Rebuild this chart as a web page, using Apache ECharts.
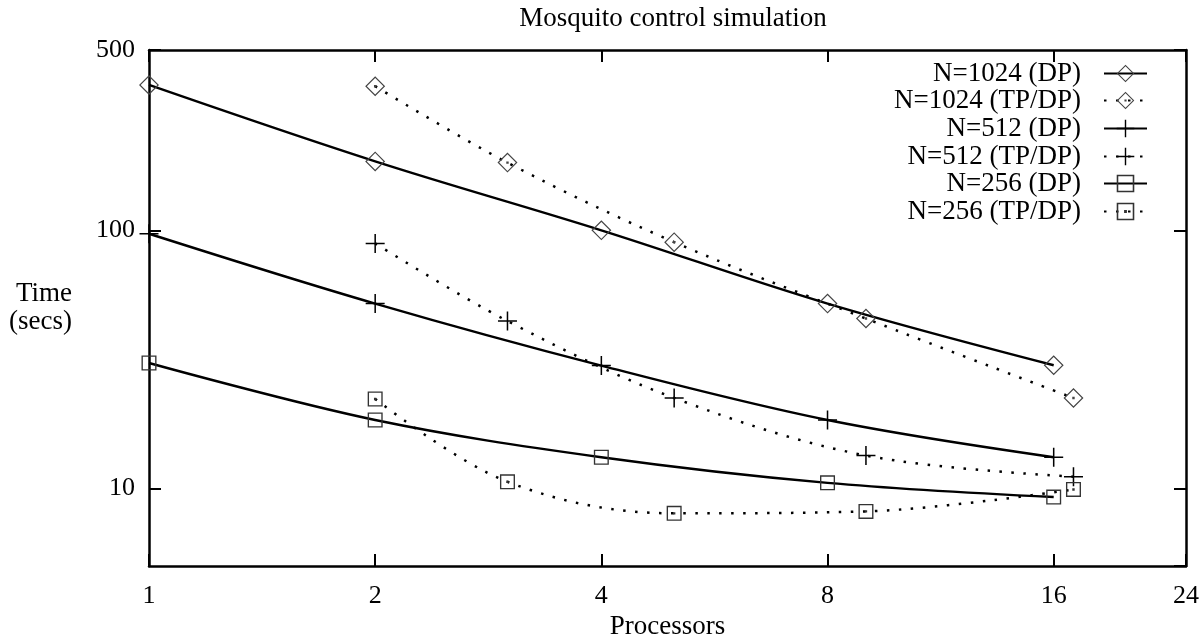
<!DOCTYPE html>
<html>
<head>
<meta charset="utf-8">
<script src="https://cdn.jsdelivr.net/npm/echarts@6/dist/echarts.min.js"></script>
<style>
    html, body {margin: 0; padding: 0; background: #fff;}
    #chart {width: 1203px; height: 637px;}
</style>
</head>
<body>
<div id="chart"></div>
<script>
    // processors used in each run
    const procDP = [1, 2, 4, 8, 16]
    const procTP = [2, 3, 5, 9, 17]

    // time in seconds
    const dp1024 = [366, 185, 100, 52, 30]
    const tp1024 = [362, 183, 90, 45.5, 22.4]
    const dp512 = [97, 52, 29.9, 18.4, 13.2]
    const tp512 = [89, 44.5, 22.4, 13.4, 11.1]
    const dp256 = [30.6, 18.4, 13.2, 10.5, 9.25]
    const tp256 = [22.2, 10.6, 8.0, 8.14, 9.9]

    const names = ['N=1024 (DP)', 'N=1024 (TP/DP)', 'N=512 (DP)', 'N=512 (TP/DP)', 'N=256 (DP)', 'N=256 (TP/DP)']

    const font = '"Liberation Serif", "Times New Roman", serif'

    // gnuplot style open markers, drawn as rings so the line shows through
    const diamond = 'path://M10,0L20,10L10,20L0,10Z M10,1.7L1.7,10L10,18.3L18.3,10Z'
    const diamondDot = diamond + ' M8.8,8.8L11.2,8.8L11.2,11.2L8.8,11.2Z'
    const plus = 'path://M9.2,0H10.8V9.2H20V10.8H10.8V20H9.2V10.8H0V9.2H9.2Z'
    const square = 'path://M0,0H20V20H0Z M1.8,1.8V18.2H18.2V1.8Z'
    const squareDot = square + ' M8.4,8.4H11.6V11.6H8.4Z'

    const pairs = (xs, ys) => xs.map((x, i) => [x, ys[i]])

    function makeSeries(name, xs, ys, symbol, size, markColor, dotted) {
        return {
            name: name,
            type: 'line',
            data: pairs(xs, ys),
            smooth: 0.35,
            symbol: symbol,
            symbolSize: size,
            symbolKeepAspect: true,
            showAllSymbol: true,
            itemStyle: {color: markColor, borderWidth: 0},
            lineStyle: {
                color: '#000',
                width: dotted ? 2.5 : 2.4,
                type: dotted ? [2.5, 9.5] : 'solid',
                cap: 'butt'
            },
            emphasis: {disabled: true}
        }
    }

    const series = [
        makeSeries(names[0], procDP, dp1024, diamond, 20, '#444', false),
        makeSeries(names[1], procTP, tp1024, diamondDot, 20, '#444', true),
        makeSeries(names[2], procDP, dp512, plus, 19, '#000', false),
        makeSeries(names[3], procTP, tp512, plus, 19, '#000', true),
        makeSeries(names[4], procDP, dp256, square, 15, '#333', false),
        makeSeries(names[5], procTP, tp256, squareDot, 15, '#333', true)
    ]

    const legendRows = [60, 87, 115, 143, 170, 198]
    const legends = names.map((n, i) => ({
        data: [n],
        right: 55,
        top: legendRows[i],
        padding: 0,
        align: 'right',
        itemWidth: 43,
        itemHeight: 22,
        selectedMode: false,
        textStyle: {fontFamily: font, fontSize: 27, color: '#000', padding: [0, 18, 0, 0]}
    }))

    const axisLine = {show: true, onZero: false, lineStyle: {color: '#000', width: 2.5}}
    const axisTick = {show: true, inside: true, length: 12, lineStyle: {color: '#000', width: 2}}
    const tickLabel = {color: '#000', fontFamily: font, fontSize: 26}

    const chart = echarts.init(document.getElementById('chart'))
    chart.setOption({
        animation: false,
        backgroundColor: '#fff',
        title: {
            text: 'Mosquito control simulation',
            left: 668,
            textAlign: 'center',
            top: 0,
            textStyle: {fontFamily: font, fontSize: 27, fontWeight: 'normal', color: '#000'}
        },
        legend: legends,
        grid: {left: 149, right: 17, top: 50, bottom: 71, outerBoundsMode: 'none'},
        xAxis: [{
            type: 'log',
            logBase: 2,
            min: 1,
            max: 24,
            position: 'bottom',
            axisLine: axisLine,
            axisTick: axisTick,
            splitLine: {show: false},
            axisLabel: Object.assign({margin: 17}, tickLabel),
            name: 'Processors',
            nameLocation: 'middle',
            nameGap: 45,
            nameTextStyle: {fontFamily: font, fontSize: 27, color: '#000'}
        }, {
            type: 'log',
            logBase: 2,
            min: 1,
            max: 24,
            position: 'top',
            axisLine: axisLine,
            axisTick: axisTick,
            splitLine: {show: false},
            axisLabel: {show: false}
        }],
        yAxis: [{
            type: 'log',
            logBase: 10,
            min: 5,
            max: 500,
            position: 'left',
            axisLine: axisLine,
            axisTick: axisTick,
            splitLine: {show: false},
            axisLabel: Object.assign({margin: 14, showMinLabel: false}, tickLabel),
            name: 'Time\n(secs)',
            nameLocation: 'middle',
            nameRotate: 0,
            nameGap: 77,
            nameTextStyle: {fontFamily: font, fontSize: 27, color: '#000', align: 'right', lineHeight: 28}
        }, {
            type: 'log',
            logBase: 10,
            min: 5,
            max: 500,
            position: 'right',
            axisLine: axisLine,
            axisTick: axisTick,
            splitLine: {show: false},
            axisLabel: {show: false}
        }],
        series: series
    })
</script>
</body>
</html>
